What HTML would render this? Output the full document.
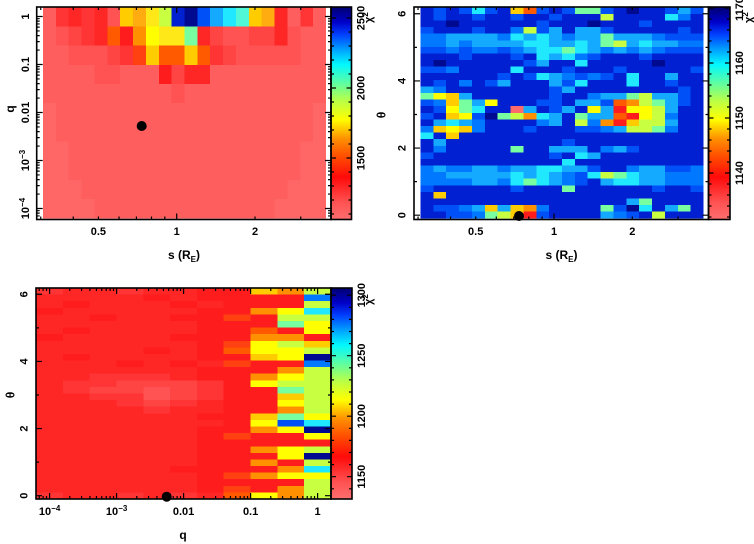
<!DOCTYPE html>
<html><head><meta charset="utf-8">
<style>
html,body{margin:0;padding:0;background:#fff;}
svg{display:block;}
text{font-family:"Liberation Sans",sans-serif;font-weight:bold;font-size:11px;fill:#000;}
.t{font-size:12px;}
</style></head>
<body>
<svg width="754" height="544" viewBox="0 0 754 544" xmlns="http://www.w3.org/2000/svg">
<defs>
<linearGradient id="cm" x1="0" y1="1" x2="0" y2="0">
<stop offset="0" stop-color="#ff6e6e"/>
<stop offset="0.08" stop-color="#ff5252"/>
<stop offset="0.2" stop-color="#ff0a0a"/>
<stop offset="0.3" stop-color="#ff5000"/>
<stop offset="0.38" stop-color="#ff9000"/>
<stop offset="0.47" stop-color="#ffff00"/>
<stop offset="0.56" stop-color="#b8ff48"/>
<stop offset="0.64" stop-color="#60ffa0"/>
<stop offset="0.73" stop-color="#00f8ff"/>
<stop offset="0.8" stop-color="#00a0ff"/>
<stop offset="0.87" stop-color="#0040ff"/>
<stop offset="0.93" stop-color="#0000c8"/>
<stop offset="1" stop-color="#000070"/>
</linearGradient>
</defs>
<rect x="0" y="0" width="754" height="544" fill="#fff"/>
<g id="tl" shape-rendering="crispEdges"></g>
<g id="tr" shape-rendering="crispEdges"></g>
<g id="bt" shape-rendering="crispEdges"></g>

<rect x="331" y="7" width="20.5" height="212.5" fill="url(#cm)"/>
<rect x="708.5" y="7" width="21.5" height="212.5" fill="url(#cm)"/>
<rect x="331" y="288" width="21" height="211" fill="url(#cm)"/>

<path id="tk" d="" stroke="#000" stroke-width="1.2" fill="none"/>

<g fill="none" stroke="#000" stroke-width="1.6">
<rect x="36.7" y="7" width="294.3" height="212.5"/>
<rect x="331" y="7" width="20.5" height="212.5"/>
<rect x="414" y="7" width="294.5" height="212.5"/>
<rect x="708.5" y="7" width="21.5" height="212.5"/>
<rect x="36" y="288" width="295" height="211"/>
<rect x="331" y="288" width="21" height="211"/>
</g>

<circle cx="141.7" cy="126" r="5" fill="#000"/>
<circle cx="519" cy="216" r="5" fill="#000"/>
<circle cx="166.7" cy="496.7" r="5" fill="#000"/>

<!-- Top-left y tick labels -->
<text transform="translate(25,16.5) rotate(-90)" text-anchor="middle" y="4">1</text>
<text transform="translate(25,64.5) rotate(-90)" text-anchor="middle" y="4">0.1</text>
<text transform="translate(25,112.5) rotate(-90)" text-anchor="middle" y="4">0.01</text>
<text transform="translate(25,160.5) rotate(-90)" text-anchor="middle" y="4">10<tspan dy="-4" font-size="8">−3</tspan></text>
<text transform="translate(25,208.5) rotate(-90)" text-anchor="middle" y="4">10<tspan dy="-4" font-size="8">−4</tspan></text>
<text class="t" transform="translate(11,109) rotate(-90)" text-anchor="middle" y="3">q</text>
<!-- Top-left x labels -->
<text x="98.4" y="235" text-anchor="middle">0.5</text>
<text x="176.7" y="235" text-anchor="middle">1</text>
<text x="255" y="235" text-anchor="middle">2</text>
<text class="t" x="184" y="259" text-anchor="middle">s (R<tspan dy="3" font-size="8">E</tspan><tspan dy="-3">)</tspan></text>
<!-- Top-left colorbar labels -->
<text transform="translate(360.5,158) rotate(-90)" text-anchor="middle" y="4">1500</text>
<text transform="translate(360.5,88) rotate(-90)" text-anchor="middle" y="4">2000</text>
<text transform="translate(360.5,18) rotate(-90)" text-anchor="middle" y="4">2500</text>
<text transform="translate(372,23) rotate(-90)" y="0">χ<tspan dy="-4" font-size="8">2</tspan></text>

<!-- Top-right y labels -->
<text transform="translate(401.5,215.2) rotate(-90)" text-anchor="middle" y="4">0</text>
<text transform="translate(401.5,148.1) rotate(-90)" text-anchor="middle" y="4">2</text>
<text transform="translate(401.5,80.9) rotate(-90)" text-anchor="middle" y="4">4</text>
<text transform="translate(401.5,13.8) rotate(-90)" text-anchor="middle" y="4">6</text>
<text class="t" transform="translate(381.5,115) rotate(-90)" text-anchor="middle" y="4">θ</text>
<text x="475.7" y="235" text-anchor="middle">0.5</text>
<text x="554" y="235" text-anchor="middle">1</text>
<text x="632.3" y="235" text-anchor="middle">2</text>
<text class="t" x="561.5" y="259" text-anchor="middle">s (R<tspan dy="3" font-size="8">E</tspan><tspan dy="-3">)</tspan></text>
<text transform="translate(739,173) rotate(-90)" text-anchor="middle" y="4">1140</text>
<text transform="translate(739,118) rotate(-90)" text-anchor="middle" y="4">1150</text>
<text transform="translate(739,63) rotate(-90)" text-anchor="middle" y="4">1160</text>
<text transform="translate(739,9) rotate(-90)" text-anchor="middle" y="4">1170</text>
<text transform="translate(752,23) rotate(-90)" y="0">χ<tspan dy="-4" font-size="8">2</tspan></text>

<!-- Bottom panel -->
<text transform="translate(23.5,495.7) rotate(-90)" text-anchor="middle" y="4">0</text>
<text transform="translate(23.5,428.6) rotate(-90)" text-anchor="middle" y="4">2</text>
<text transform="translate(23.5,361.4) rotate(-90)" text-anchor="middle" y="4">4</text>
<text transform="translate(23.5,294.3) rotate(-90)" text-anchor="middle" y="4">6</text>
<text class="t" transform="translate(10.7,395) rotate(-90)" text-anchor="middle" y="4">θ</text>
<text x="49.6" y="515" text-anchor="middle">10<tspan dy="-4" font-size="8">−4</tspan></text>
<text x="116.6" y="515" text-anchor="middle">10<tspan dy="-4" font-size="8">−3</tspan></text>
<text x="183.6" y="515" text-anchor="middle">0.01</text>
<text x="250.6" y="515" text-anchor="middle">0.1</text>
<text x="317.6" y="515" text-anchor="middle">1</text>
<text class="t" x="183" y="539" text-anchor="middle">q</text>
<text transform="translate(361,476.7) rotate(-90)" text-anchor="middle" y="4">1150</text>
<text transform="translate(361,416.2) rotate(-90)" text-anchor="middle" y="4">1200</text>
<text transform="translate(361,355.7) rotate(-90)" text-anchor="middle" y="4">1250</text>
<text transform="translate(361,295.2) rotate(-90)" text-anchor="middle" y="4">1300</text>
<text transform="translate(372,305) rotate(-90)" y="0">χ<tspan dy="-4" font-size="8">2</tspan></text>
</svg>
<script>
var P={N:'#000a90',D:'#0020d2',B:'#0050f8',M:'#0078ff',L:'#14aaff',C:'#20e8ff',H:'#50f8d8',G:'#78ffa0',g:'#c8ff40',Y:'#ffff00',Z:'#ffe818',y:'#ffcc00',Q:'#ffac10',O:'#ff9000',o:'#ff5a00',p:'#ff4010',R:'#ff1c1c',S:'#ff2626',T:'#ff3434',U:'#ff4444',V:'#ff5252',W:'#ff5e5e',X:'#ff6666',P:'#ff6a6a'};
function grid(id,rows,x0,y0,w,h){var nr=rows.length,nc=rows[0].length,cw=w/nc,rh=h/nr,s='';
for(var r=0;r<nr;r++)for(var c=0;c<nc;c++){s+='<rect x="'+(x0+c*cw).toFixed(2)+'" y="'+(y0+r*rh).toFixed(2)+'" width="'+(cw+(c<nc-1?0.6:0)).toFixed(2)+'" height="'+(rh+(r<nr-1?0.6:0)).toFixed(2)+'" fill="'+P[rows[r].charAt(c)]+'"/>';}
document.getElementById(id).innerHTML=s;}
grid('tl',[
"WTSTSVyQZgDNBLCHyQSWTW",
"WVUTSoROYZZGSUVVUUSVWW",
"WWVVVUTpyooyoTUVVVVVWW",
"WWWWVVWWWRUSSWWWWWWWWW",
"WWWWWWWWWWVWWWWWWWWWWW",
"XWWWWWWWWWWWWWWWWWWWWX",
"XWWWWWWWWWWWWWWWWWWWWX",
"XXWWWWWWWWWWWWWWWWWWXX",
"XXWWWWWWWWWWWWWWWWWWXX",
"XXXWWWWWWWWWWWWWWWWXXX",
"XXXXWWWWWWWWWWWWWWXXXX"],43,7.3,283,211);
grid('tr',[
"DBDBCBDyoBDBGGBDNDDBLB",
"DBDDBDDBDDBDDDgDDDDCMD",
"DDNDDDDDDBDDDNDDDBDDDD",
"BDDDBDDMgBLDLLBDDDDDBD",
"MMLLLLMCLCLMLLGLLLMBBB",
"MMLMLLLLCCLLCLGgLCLLMM",
"BBMBMMBMLCCGCLMLMLMBBB",
"DDDBDDDBDCLCMBDDDBDDDD",
"DNDDDDDDBLDDCDDDDDNDDD",
"BBMDDDDCDDDBDDDBDDDDDB",
"DDDDDDBDBCLMBMBDCDDLDD",
"DBDMDBLDDDLBCDDDCDDBDD",
"LMDDDDDDDDBLDDDDDDDDBD",
"GYyLDDDDDDBDDMLLGgLLBD",
"BMyGLYDDDBBDLLBoOgGLBD",
"DBYGCDDPLDBLDYLRYYgLDD",
"BDyYBNGgOCLDGLLoRYgMDD",
"DLCLMDDDDMLDgMORyggLDD",
"MyYyMDDDBDDDBBMLggGMDD",
"CDyDDDDDDDDDDDDDDDDDDD",
"DLDDDDDDDDDBDDDDDDDDDD",
"DMDDDDDGDDLLLDMLBDDDDD",
"BDDDDDDDDDBDCLDDDDDDDD",
"DDDDDDDDDDDCDDDDDDDDDD",
"MLMMLLMLLCCLLBDDMLLBBM",
"MMLLLLLCLCLMBCgGCLLMMM",
"MMMMLLMCGCLMBDLCCLLMMM",
"BDDDDDDBDDDGDDDDDDBDDB",
"DyDDDDDDDDDDDDDDDDDDDD",
"DDDDDDDDDDDDDDDDLGDDDD",
"DBBMLyLyOMDDDDGBNCDLGD",
"DDBBMGgyRBDDDDLMBDgDDD"],420.5,7.3,283,211);
grid('bt',[
"TSSTSSRRyOg","SSSSRSRRRRM","SRSSSRSRRRg","RSSSSSRROYC","SSRSSRRpRgg","SSSSSSRRRGY",
"SRSSSSRRoRY","RSSSSRRROOR","SSSSSSRpYgy","SSSSRSRoYYg","SRSSSSRRyYN","SSSRSRSpRRM",
"SSSSSSRRROg","SSTTTSRROYg","STTUUUTRYgg","STUUVUTRRGg","SSTTVUTRRyg","SSSTUTSRRYg",
"SSSSTSSRROg","SSSSSSRRyGY","SSSSSSSRYBC","SSSSSSRROYN","SSSSSSRpRRY","SSSSSSRRRRR",
"SSSSSSRROYg","SSSSSSRRRYN","SSSSSSRRORg","SSSSSRRRROC","SSSSSSRpOYY","SSSSSSRRRRg",
"SSSSSSRpROg","TSSTSTSoYOg"],36,288,295,211);
var d='';
function V(x,y,l){d+='M'+x.toFixed(2)+' '+y.toFixed(2)+'v'+l;}
function Hh(x,y,l){d+='M'+x.toFixed(2)+' '+y.toFixed(2)+'h'+l;}
function lg(v){return Math.log(v)/Math.LN10;}
[0.3,0.4,0.5,0.6,0.7,0.8,0.9,1,2,3].forEach(function(s){var l=(s==1)?6:3;[0,377.3].forEach(function(o){var x=176.7+260*lg(s)+o;V(x,219.5,-l);V(x,7,l);});});
var e,k,y,x,l,t,v;
for(e=-5;e<=0;e++)for(k=1;k<=9;k++){y=16.5-48*(e+lg(k));if(y>7.5&&y<219){l=k==1?6:3;Hh(36.7,y,l);Hh(331,y,-l);}}
for(t=0;t<=6;t++){l=t%2?3:6;y=215.2-33.57*t;Hh(414,y,l);Hh(708.5,y,-l);y=495.7-33.57*t;Hh(36,y,l);Hh(331,y,-l);}
for(e=-5;e<=0;e++)for(k=1;k<=9;k++){x=317.6+67*(e+lg(k));if(x>36.5&&x<330.5){l=k==1?6:3;V(x,499,-l);V(x,288,l);}}
for(v=1100;v<=2500;v+=100){y=158-(v-1500)*0.14;if(y>7.5&&y<219){l=v%500?3:5;Hh(331,y,l);Hh(351.5,y,-l);}}
for(v=1132;v<=1170;v+=2){y=118-(v-1150)*5.5;if(y>7.5&&y<219){l=v%10?3:5;Hh(708.5,y,l);Hh(730,y,-l);}}
for(v=1140;v<=1300;v+=10){y=476.7-(v-1150)*1.21;if(y>288.5&&y<498.5){l=v%50?3:5;Hh(331,y,l);Hh(352,y,-l);}}
document.getElementById('tk').setAttribute('d',d);
</script>
</body></html>
